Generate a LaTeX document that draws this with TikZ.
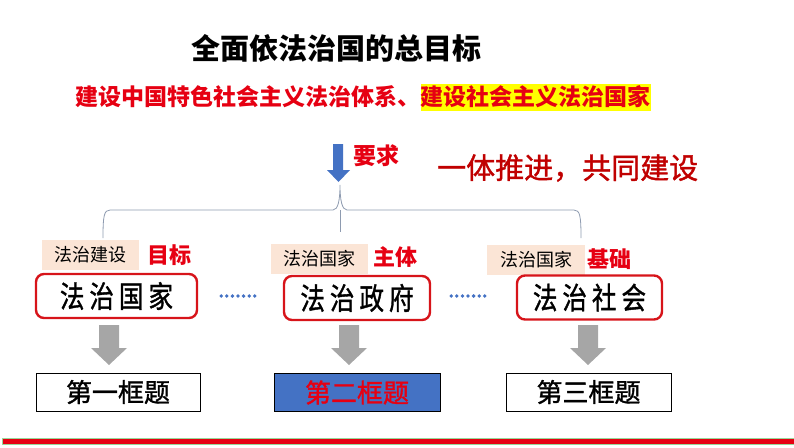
\documentclass[tikz,border=0pt]{standalone}
\usepackage{fontspec}
\usepackage{graphicx}
\setmainfont{Noto Sans CJK SC}
\newfontfamily\medfont{Noto Sans CJK SC}[FakeBold=1.3]
\usetikzlibrary{positioning}
\definecolor{brightred}{HTML}{E60012}
\definecolor{darkred}{HTML}{C00000}
\definecolor{boxred}{HTML}{D7141A}
\definecolor{tanbg}{HTML}{FBE5D6}
\definecolor{officeblue}{HTML}{4472C4}
\definecolor{arrowgray}{HTML}{A6A6A6}
\definecolor{bracecol}{HTML}{8E9BB0}
\definecolor{hlyellow}{HTML}{FFFF00}
\tikzset{
  labelbox/.style={fill=tanbg, inner sep=0pt, minimum width=97pt, minimum height=30pt, font=\fontsize{18}{18}\selectfont, text=black},
  tagtext/.style={font=\fontsize{22}{22}\selectfont\bfseries, text=brightred, inner sep=0pt},
  bigbox/.style={draw=boxred, line width=2.4pt, rounded corners=8pt, inner sep=0pt, minimum height=44pt, font=\fontsize{30}{30}\medfont},
  framebox/.style={draw=black, line width=1pt, inner sep=0pt, minimum height=38pt, font=\fontsize{26}{26}\medfont},
  dotline/.style={draw=officeblue, line width=3.8pt, line cap=round, dash pattern=on 0pt off 5.6pt},
  grayarrow/.style={fill=arrowgray, draw=none},
}
\newcommand{\spaced}[4]{\scalebox{0.82}[1]{#1\hspace{6pt}#2\hspace{6pt}#3\hspace{6pt}#4}}
\begin{document}
\begin{tikzpicture}[x=1pt,y=-1pt]
\useasboundingbox (0,0) rectangle (794,447);
% title
\node[font=\fontsize{29}{29}\selectfont\bfseries, inner sep=0pt] (title) at (336,48) {全面依法治国的总目标};
% goal line
\node[anchor=west, inner sep=0pt, font=\fontsize{23}{23}\selectfont\bfseries, text=brightred, minimum height=27pt] (goalA) at (75,97) {建设中国特色社会主义法治体系、};
\node[anchor=west, inner sep=0pt, fill=hlyellow, font=\fontsize{23}{23}\selectfont\bfseries, text=brightred, minimum height=27pt] (goalB) at (goalA.east) {建设社会主义法治国家};
% blue arrow
\fill[officeblue] (333,144) -- (343,144) -- (343,170) -- (350,170) -- (338.5,182) -- (327,170) -- (333,170) -- cycle;
\node[anchor=west, tagtext, font=\fontsize{23}{23}\selectfont\bfseries] (req) at (353,156) {要求};
\node[anchor=west, inner sep=0pt, font=\fontsize{29}{29}\medfont, text=darkred] (slogan) at (437,168) {一体推进，共同建设};
% brace
\draw[bracecol, line width=0.8pt]
  (103,238) .. controls (103,216) and (104,210) .. (110,210) -- (333,210)
  .. controls (338,210) and (340,200) .. (340,185)
  .. controls (340,200) and (342,210) .. (347,210) -- (574,210)
  .. controls (580,210) and (581,216) .. (581,238);
\draw[bracecol, line width=0.8pt] (340,210) -- (340,232);
% labels
\node[labelbox] (lab1) at (90,255) {法治建设};
\node[labelbox] (lab2) at (319,258.5) {法治国家};
\node[labelbox, minimum width=98pt] (lab3) at (536,259.5) {法治国家};
\node[tagtext, anchor=west] (tag1) at (147,255) {目标};
\node[tagtext, anchor=west] (tag2) at (373,257) {主体};
\node[tagtext, anchor=west] (tag3) at (587,259) {基础};
% big boxes
\node[bigbox, minimum width=161pt] (box1) at (116.5,296) {\spaced{法}{治}{国}{家}};
\node[bigbox, minimum width=146pt] (box2) at (357,298) {\spaced{法}{治}{政}{府}};
\node[bigbox, minimum width=145pt] (box3) at (589.5,297.5) {\spaced{法}{治}{社}{会}};
\draw[dotline, shorten <=23pt, shorten >=27pt] (box1.east |- 0,296) -- (box2.west |- 0,296);
\draw[dotline, shorten <=20pt, shorten >=30pt] (box2.east |- 0,296) -- (box3.west |- 0,296);
% gray arrows
\foreach \cx in {109, 349, 588}{
  \fill[grayarrow] (\cx-10,325) -- (\cx+10,325) -- (\cx+10,348) -- (\cx+18,348) -- (\cx,365) -- (\cx-18,348) -- (\cx-10,348) -- cycle;
}
% bottom boxes
\node[framebox, minimum width=164pt] (f1) at (118,392) {第一框题};
\node[framebox, minimum width=166pt, fill=officeblue, text=brightred] (f2) at (357,392.5) {第二框题};
\node[framebox, minimum width=165pt] (f3) at (588.5,392) {第三框题};
% bottom bar
\draw[fill=brightred, draw=green!60!black!40, line width=0.5pt] (2,438) rectangle (794,444);
\end{tikzpicture}
\end{document}
